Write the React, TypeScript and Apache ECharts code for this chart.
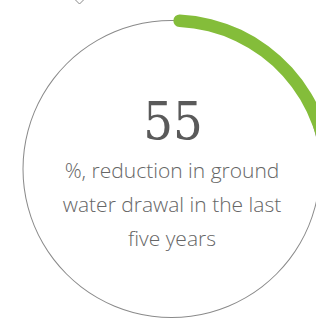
import React, { useEffect, useRef } from "react";
import * as echarts from "echarts";

const headline = ["55"];
const captionLines = ["%, reduction in ground", "water drawal in the last", "five years"];
const arcValue = [25];

export default function App() {
  const ref = useRef<HTMLDivElement>(null);
  useEffect(() => {
    if (!ref.current) return;
    const chart = echarts.init(ref.current, null, { renderer: "svg" });
    const cx = 171.5;
    const cy = 169;
    const hidden = {
      pointer: { show: false },
      axisTick: { show: false },
      splitLine: { show: false },
      axisLabel: { show: false },
      detail: { show: false },
      title: { show: false },
    };
    chart.setOption({
      animation: false,
      backgroundColor: "#ffffff",
      series: [
        {
          type: "gauge",
          center: [cx, cy],
          radius: 149,
          startAngle: 90,
          endAngle: -270,
          min: 0,
          max: 100,
          ...hidden,
          axisLine: { lineStyle: { width: 1, color: [[1, "#8a8a8a"]] } },
          data: [{ value: 0 }],
        },
        {
          type: "gauge",
          center: [172, 176.3],
          radius: 162,
          startAngle: 87.2,
          endAngle: -272.8,
          min: 0,
          max: 100,
          ...hidden,
          progress: { show: true, width: 12.5, roundCap: true, itemStyle: { color: "#84bd3a" } },
          axisLine: { show: false, lineStyle: { width: 12.5 } },
          data: [{ value: arcValue[0] }],
        },
      ],
      graphic: [
        {
          type: "polyline",
          shape: { points: [[75, -0.5], [79.5, 4], [84, -0.5]] },
          style: { stroke: "#8a8a8a", lineWidth: 1, fill: "none" },
        },
        {
          type: "text",
          x: 173,
          y: 121,
          style: {
            text: headline[0],
            fontFamily: "DejaVu Serif Condensed, DejaVu Serif",
            fontWeight: "normal",
            fontSize: 52,
            fill: "#5a5a5a",
            textAlign: "center",
            textVerticalAlign: "middle",
          },
        },
        ...captionLines.map((t, i) => ({
          type: "text",
          x: 172,
          y: 170 + i * 34,
          style: {
            text: t,
            fontFamily: "Open Sans",
            fontWeight: 300,
            fontSize: 21,
            fill: "#666666",
            textAlign: "center",
            textVerticalAlign: "middle",
          },
        })),
      ],
    });
    return () => chart.dispose();
  }, []);
  return (
    <div
      ref={ref}
      style={{ position: "fixed", left: 0, top: 0, width: 316, height: 318 }}
    />
  );
}
